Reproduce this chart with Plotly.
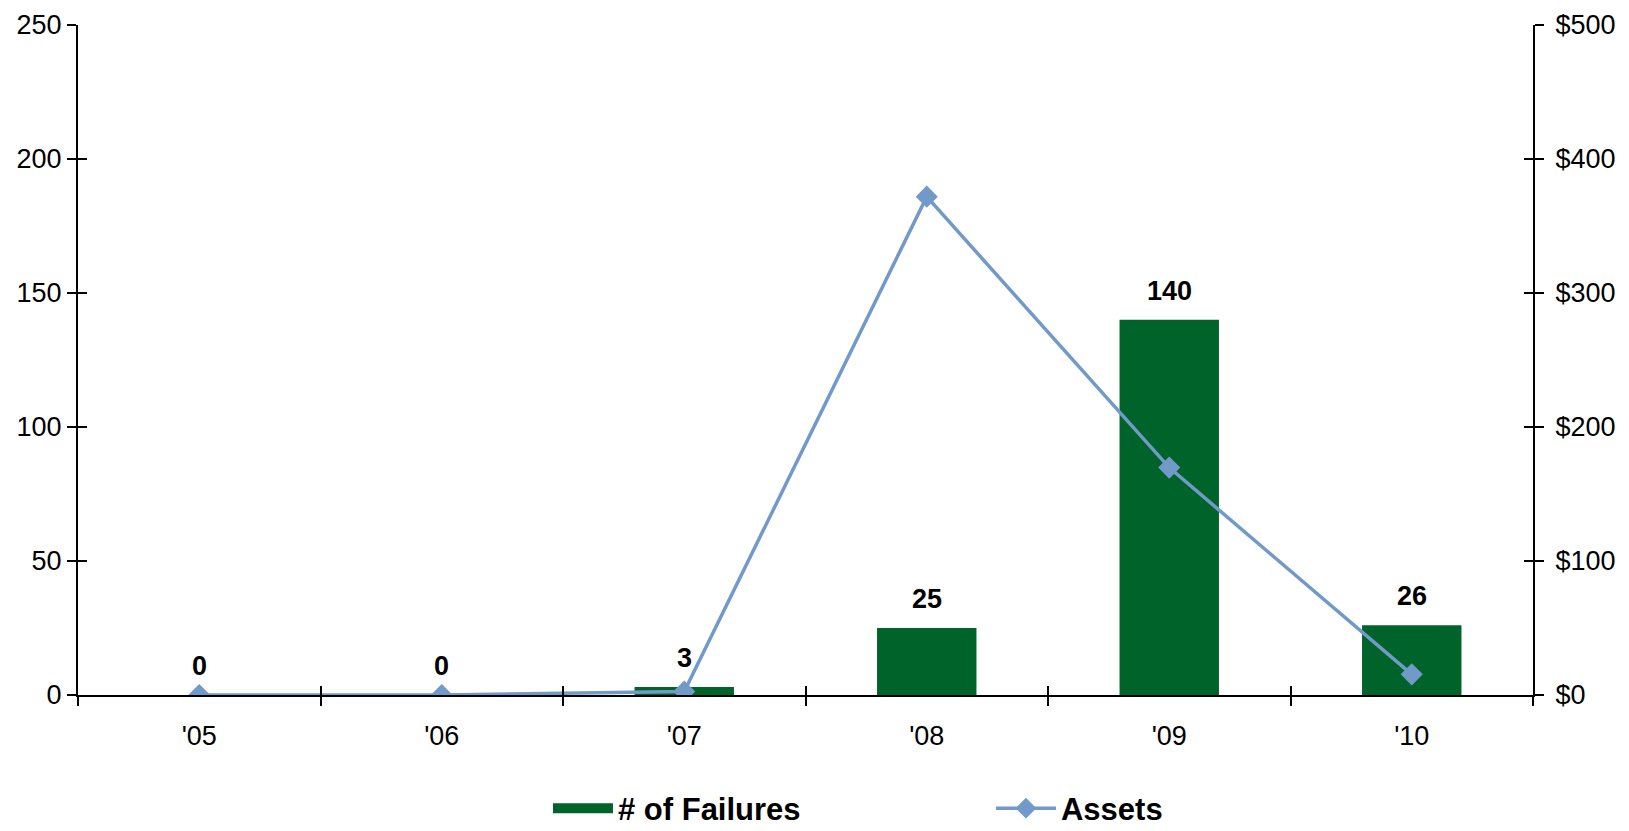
import plotly.graph_objects as go

# Bank failures by year and total assets of failed institutions ($ billions)
years = ["'05", "'06", "'07", "'08", "'09", "'10"]
failures = [0, 0, 3, 25, 140, 26]
assets = [0, 0, 2.6, 371.9, 169.7, 15.4]

left_ticks = [0, 50, 100, 150, 200, 250]
right_ticks = [0, 100, 200, 300, 400, 500]
right_labels = ["$0", "$100", "$200", "$300", "$400", "$500"]

GREEN = "#006329"
BLUE = "#729AC8"
FONT = "Liberation Sans, Arial, sans-serif"

fig = go.Figure()

fig.add_trace(go.Bar(
    x=years, y=failures, name="# of Failures",
    marker=dict(color=GREEN, line=dict(width=0)),
    width=0.41, yaxis="y", showlegend=False, legendgroup="f",
))
# legend swatch for the bar series
fig.add_trace(go.Scatter(
    x=[None], y=[None], mode="lines", name="<b># of Failures</b>",
    line=dict(color=GREEN, width=19), legendgroup="f",
))
fig.add_trace(go.Scatter(
    x=years, y=assets, name="<b>Assets</b>", mode="lines+markers",
    line=dict(color=BLUE, width=3.5),
    marker=dict(symbol="diamond", size=17, color=BLUE),
    yaxis="y2",
))

# value labels above the bars
for yr, v in zip(years, failures):
    fig.add_annotation(
        x=yr, y=v, xref="x", yref="y", text=f"<b>{v}</b>",
        showarrow=False, yanchor="bottom", yshift=12,
        font=dict(family=FONT, size=27, color="black"),
    )

n = len(years)
boundaries = [i - 0.5 for i in range(n + 1)]

tick_common = dict(ticklen=9, tickwidth=2, tickcolor="black",
                   linecolor="black", linewidth=2,
                   showgrid=False, zeroline=False)

fig.update_layout(
    width=1629, height=831,
    margin=dict(l=78, r=96, t=25, b=136, autoexpand=False),
    paper_bgcolor="white", plot_bgcolor="white",
    font=dict(family=FONT, size=27, color="black"),
    bargap=0.59,
    xaxis=dict(type="category", range=[-0.5, n - 0.5], ticks="outside",
               tickson="boundaries", tickfont=dict(size=27),
               ticklabelstandoff=16, showline=True, **tick_common),
    # inner half of the crossing tick marks
    xaxis2=dict(type="linear", overlaying="x", range=[-0.5, n - 0.5],
                tickvals=boundaries, ticks="inside", showticklabels=False,
                side="bottom", anchor="free", position=0, showline=False,
                **tick_common),
    yaxis=dict(range=[0, 250], tickvals=left_ticks, ticks="outside",
               tickfont=dict(size=27), showline=True, **tick_common),
    yaxis3=dict(type="linear", overlaying="y", range=[0, 250],
                tickvals=left_ticks, ticks="inside", showticklabels=False,
                side="left", anchor="x", showline=False, **tick_common),
    yaxis2=dict(overlaying="y", side="right", range=[0, 500],
                tickvals=right_ticks, ticktext=right_labels,
                ticks="outside", tickfont=dict(size=27), anchor="x",
                ticklabelstandoff=6, showline=True, **tick_common),
    yaxis4=dict(type="linear", overlaying="y", side="right", range=[0, 500],
                tickvals=right_ticks, ticks="inside",
                showticklabels=False, anchor="x", showline=False,
                **tick_common),
    legend=dict(orientation="h", x=0.323, xanchor="left",
                yref="container", y=0.027, yanchor="middle",
                font=dict(size=31, family=FONT),
                itemwidth=60, entrywidth=368, traceorder="normal",
                bgcolor="rgba(0,0,0,0)"),
)

# empty traces so the overlay tick axes are drawn
fig.add_trace(go.Scatter(x=[0], y=[0], xaxis="x2", yaxis="y",
                         mode="markers", marker=dict(opacity=0),
                         showlegend=False, hoverinfo="skip"))
fig.add_trace(go.Scatter(x=[None], y=[None], xaxis="x", yaxis="y3",
                         showlegend=False, hoverinfo="skip"))
fig.add_trace(go.Scatter(x=[None], y=[None], xaxis="x", yaxis="y4",
                         showlegend=False, hoverinfo="skip"))

fig.write_html("out.html")
